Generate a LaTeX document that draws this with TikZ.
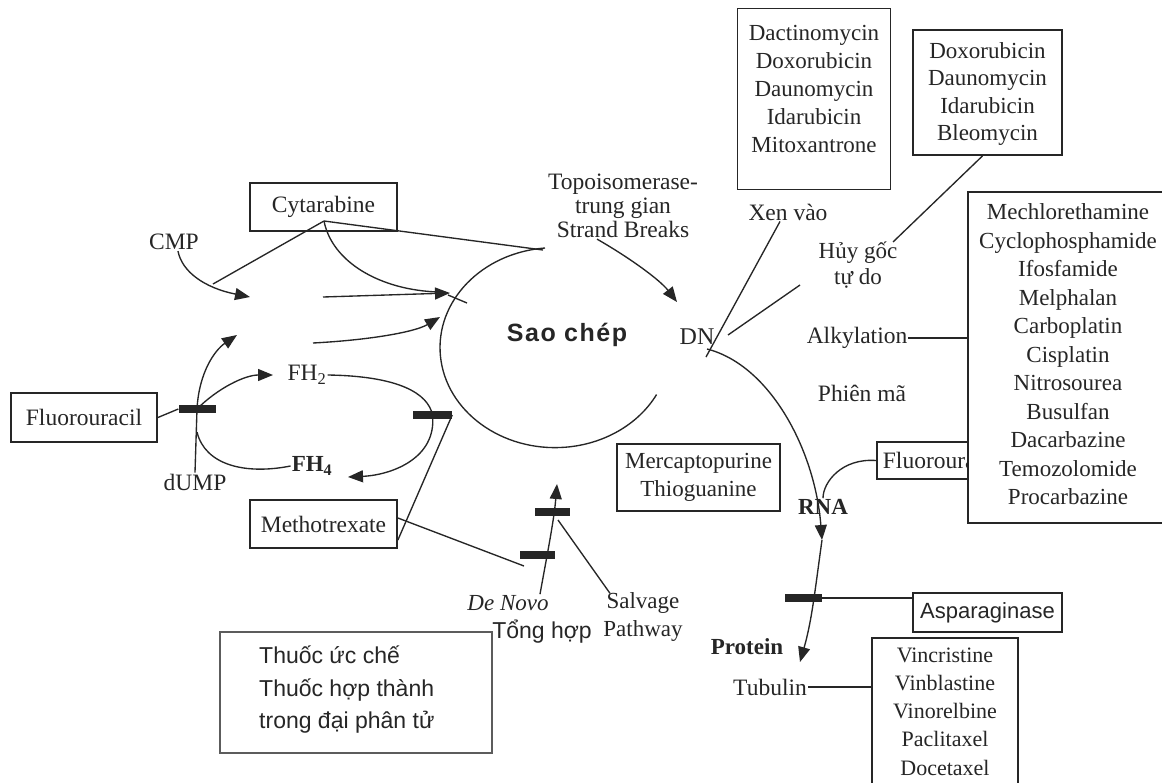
\documentclass[tikz,border=0pt]{standalone}
\usepackage{fontspec}
\setmainfont{Liberation Serif}
\setsansfont{Liberation Sans}
\usetikzlibrary{arrows.meta}
\definecolor{ink}{HTML}{262626}
\begin{document}
\begin{tikzpicture}[x=1pt,y=-1pt,
  ln/.style={draw=ink,line width=1.35pt},
  arr/.style={ln,-{Triangle[length=15pt,width=12pt]}},
  box/.style={draw=ink,line width=1.8pt,fill=white,inner sep=0pt},
  lbl/.style={font=\fontsize{23.5}{24}\selectfont,text=ink,inner sep=1pt,align=center},
  lst/.style={font=\fontsize{23}{28}\selectfont,text=ink,inner sep=0pt,align=center},
  sans/.style={font=\sffamily\fontsize{23}{32.5}\selectfont,text=ink,inner sep=1pt},
  bar/.style={fill=ink,minimum width=37pt,minimum height=8pt,inner sep=0pt},
]
\useasboundingbox (0,0) rectangle (1162,782);
\fill[white] (0,0) rectangle (1162,782);

% ---------- boxes ----------
\node[box,minimum width=147pt,minimum height=48pt,lbl] (cyt) at (323.5,207) {Cytarabine};
\node[box,minimum width=146pt,minimum height=49pt,lbl] (fluo) at (84,417.5) {Fluorouracil};
\node[box,minimum width=147pt,minimum height=48pt,lbl] (meth) at (323.5,524) {Methotrexate};
\node[box,minimum width=153pt,minimum height=181pt] (dact) at (814,99) {};
\node[lst] (dactL) at (814,89) {Dactinomycin\\Doxorubicin\\Daunomycin\\Idarubicin\\Mitoxantrone};
\node[box,minimum width=149pt,minimum height=125pt] (doxo) at (987.5,92.5) {};
\node[lst,font=\fontsize{23}{27.3}\selectfont] (doxoL) at (987.5,94) {Doxorubicin\\Daunomycin\\Idarubicin\\Bleomycin};
\node[box,minimum height=37pt,anchor=west,lbl,inner xsep=6pt] (fluoR) at (876,460.5) {Fluorouracil};
\node[box,minimum width=210pt,minimum height=331pt] (alk) at (1073,357.5) {};
\node[lst,font=\fontsize{23}{28.5}\selectfont] (alkL) at (1068,354.5) {Mechlorethamine\\Cyclophosphamide\\Ifosfamide\\Melphalan\\Carboplatin\\Cisplatin\\Nitrosourea\\Busulfan\\Dacarbazine\\Temozolomide\\Procarbazine};
\node[box,minimum width=163pt,minimum height=67pt,lst] (merc) at (698.5,477.5) {Mercaptopurine\\Thioguanine};
\node[box,minimum width=149pt,minimum height=39pt,sans,font=\sffamily\fontsize{22}{24}\selectfont] (aspa) at (987.5,612.5) {Asparaginase};
\node[box,minimum width=146pt,minimum height=170pt] (vinc) at (945,723) {};
\node[lst,font=\fontsize{22}{28.3}\selectfont] (vincL) at (945,711.5) {Vincristine\\Vinblastine\\Vinorelbine\\Paclitaxel\\Docetaxel};
\node[box,draw=ink!75,line width=2.2pt,minimum width=272pt,minimum height=121pt] (leg) at (356,692.5) {};
\node[sans,anchor=west,align=left] (legL) at (258,690) {Thuốc ức chế\\Thuốc hợp thành\\trong đại phân tử};

% ---------- labels ----------
\node[lbl] (cmp) at (174,242) {CMP};
\node[lbl] (topo) at (623,206) {Topoisomerase-\\trung gian\\Strand Breaks};
\node[lbl] (xen) at (788,212) {Xen vào};
\node[lbl,font=\fontsize{23}{26}\selectfont] (huy) at (858,265) {Hủy gốc\\tự do};
\node[lbl,font=\fontsize{24}{26}\selectfont] (dn) at (697,337) {DN};
\node[lbl] (alkyl) at (857,338) {Alkylation};
\node[lbl] (phien) at (862,393) {Phiên mã};
\node[lbl,font=\sffamily\bfseries\fontsize{25}{26}\selectfont\addfontfeature{LetterSpace=6}] (sao) at (567,335) {Sao chép};
\node[lbl,font=\bfseries\fontsize{23}{24}\selectfont] (rna) at (823,507) {RNA};
\node[lbl,font=\bfseries\fontsize{23}{24}\selectfont] (prot) at (747,647) {Protein};
\node[lbl] (tub) at (770,687) {Tubulin};
\node[lbl] (fh2) at (307,375) {FH\textsubscript{2}};
\node[lbl,font=\bfseries\fontsize{23}{24}\selectfont] (fh4) at (312,466) {FH\textsubscript{4}};
\node[lbl] (dump) at (195,482) {dUMP};
\node[lbl,font=\itshape\fontsize{23}{24}\selectfont] (denovo) at (508,603) {De Novo};
\node[sans,font=\sffamily\fontsize{23}{26}\selectfont] (tong) at (542,632) {Tổng hợp};
\node[lbl,font=\fontsize{23}{28}\selectfont] (salv) at (643,617) {Salvage\\Pathway};

% ---------- bars ----------
\node[bar] (barL) at (197,409) {};
\node[bar,minimum width=39pt] (barR) at (432.5,415) {};
\node[bar] (barA) at (803,598) {};
\node[bar,minimum width=35pt] (barD1) at (537,555) {};
\node[bar,minimum width=35pt] (barD2) at (552,512) {};

% ---------- free ends ----------
\coordinate (tA) at (250,297);
\coordinate (tB) at (450,293);
\coordinate (tC) at (440,317);
\coordinate (tD) at (237,335);
\coordinate (tE) at (273,375);
\coordinate (tF) at (557,484);
\coordinate (tG) at (348,477);
\coordinate (cO) at (324,221);
\coordinate (cL) at (213,284);
\coordinate (cT) at (543,250);
\coordinate (rA) at (822,540);
\coordinate (pA) at (800,662);
\coordinate (mE) at (524,566);
\coordinate (hA) at (800,285);
\coordinate (hB) at (893,242);

% ---------- replication circle ----------
\draw[ln] (545,248) arc[start angle=265,end angle=28,x radius=115,y radius=100];

% ---------- connectors ----------
\draw[arr] ([xshift=4pt]cmp.south) .. controls (182,272) and (205,288) .. (tA);
\draw[ln] (cO) -- (cL);
\draw[ln] (cO) .. controls (332,262) and (380,290) .. (438,292);
\draw[ln] (cO) -- (cT);
\draw[arr] (323,297) -- (tB);
\draw[ln] (448,295) -- (467,303);
\draw[arr] (313,343) .. controls (370,340) and (415,332) .. (tC);

\draw[ln] (fluo.east) -- (barL.west);
\draw[arr] (barL.center) .. controls (199,372) and (215,350) .. (tD);
\draw[arr] (barL.center) .. controls (218,388) and (245,375) .. (tE);
\draw[ln] (barL.center) -- (dump.north);
\draw[ln] (197,432) .. controls (205,465) and (245,475) .. (fh4.west);
\draw[ln] (fh2.east) .. controls (398,376) and (428,393) .. (barR.center);
\draw[arr] (barR.center) .. controls (437,458) and (392,475) .. (tG);
\draw[ln] ([yshift=-16pt]meth.east) -- (barR.east);
\draw[ln] ([yshift=6pt]meth.east) -- (mE);

\draw[arr] ([xshift=32pt]denovo.north) .. controls (548,550) and (554,520) .. (tF);
\draw[ln] ([xshift=-33pt,yshift=-2pt]salv.north) -- (558,520);

\draw[arr] ([xshift=-26pt]topo.south) .. controls (630,258) and (660,280) .. (677,302);

\draw[ln] ([xshift=-8pt]xen.south) -- (706,357);
\draw[ln] (hA) -- (728,335);
\draw[ln] ([xshift=-5pt]doxo.south) -- (hB);

\draw[arr] (707,349) .. controls (770,365) and (815,450) .. (rA);
\draw[arr] (rA) .. controls (815,590) and (812,620) .. (pA);
\draw[ln] (fluoR.west) .. controls (842,458) and (823,482) .. (rna.north);
\draw[ln] (barA.center) -- (barA -| aspa.west);
\draw[ln] (alkyl.east) -- (alkyl -| alk.west);
\draw[ln] (tub.east) -- (tub -| vinc.west);

% bars on top
\node[bar] at (barL) {};
\node[bar,minimum width=39pt] at (barR) {};
\node[bar] at (barA) {};
\node[bar,minimum width=35pt] at (barD1) {};
\node[bar,minimum width=35pt] at (barD2) {};
\end{tikzpicture}
\end{document}
